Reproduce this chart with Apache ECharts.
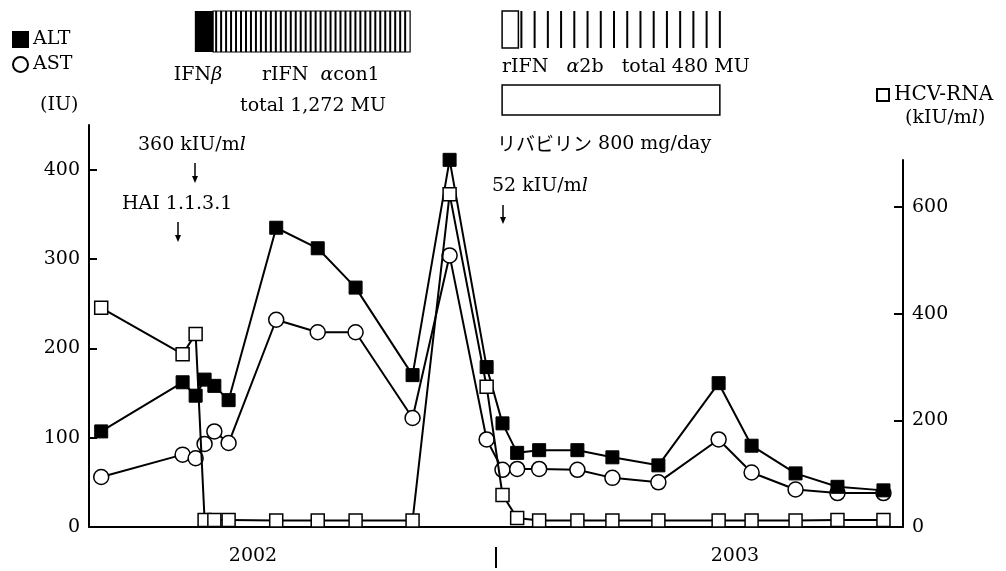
<!DOCTYPE html>
<html><head><meta charset="utf-8">
<script src="https://cdn.jsdelivr.net/npm/echarts@6/dist/echarts.min.js"></script>
<style>html,body{margin:0;padding:0;background:#fff}#c{width:1006px;height:571px}</style>
</head><body><div id="c"></div>
<script>
// x values: months counted from Jan 2002 (0 = Jan 2002, 12 = Jan 2003)
const months = [2.3, 4.3, 4.62, 4.84, 5.08, 5.43, 6.6, 7.62, 8.55, 9.95, 10.86, 11.77, 12.16, 12.52, 13.06, 14.0, 14.86, 15.99, 17.47, 18.28, 19.36, 20.39, 21.52];
const alt = [107, 162, 147, 165, 158, 142, 335, 312, 268, 170, 411, 179, 116, 83, 86, 86, 78, 69, 161, 91, 60, 45, 41];
const ast = [56, 81, 77, 93, 107, 94, 232, 218, 218, 122, 304, 98, 64, 65, 65, 64, 55, 50, 98, 61, 42, 38, 38];
const hcv = [411, 324, 362, 13, 13, 13, 12, 12, 12, 12, 624, 263, 60, 17, 12, 12, 12, 12, 12, 12, 12, 13, 13];
const leftTicks = [0, 100, 200, 300, 400];
const rightTicks = [0, 200, 400, 600];
const yearLabels = ['2002', '2003'];
const yearLabelPos = [6.03, 17.87];
const yearDivider = [12];
// treatment periods (months)
const treatStart = [4.6, 5.05, 12.15, 12.55, 12.15];
const treatEnd = [5.05, 9.89, 12.55, 17.5, 17.5];
const treatKind = ['solid', 'dense', 'box', 'sparse', 'ribavirin'];

const FONT = '"DejaVu Serif", "Liberation Serif", serif';
const JP = '"Noto Sans CJK JP", sans-serif';
const FS = 19;
const K = '#000';

function renderTreat(params, api) {
  const k = treatKind[params.dataIndex];
  const x0 = api.coord([api.value(0), 0])[0];
  const x1 = api.coord([api.value(1), 0])[0];
  if (k === 'solid') {
    return {type: 'rect', shape: {x: x0, y: 11, width: x1 - x0, height: 41}, style: {fill: K}};
  }
  if (k === 'dense') {
    const ch = [{type: 'rect', shape: {x: x0, y: 11, width: x1 - x0, height: 41}, style: {fill: '#fff', stroke: K, lineWidth: 1.2}}];
    const n = Math.round((x1 - x0) / 5);
    for (let i = 0; i < n; i++) {
      const x = x0 + 3 + i * (x1 - x0 - 3) / n;
      ch.push({type: 'line', shape: {x1: x, y1: 11, x2: x, y2: 52}, style: {stroke: K, lineWidth: 2}});
    }
    return {type: 'group', children: ch};
  }
  if (k === 'box') {
    return {type: 'rect', shape: {x: x0, y: 11, width: x1 - x0, height: 37}, style: {fill: '#fff', stroke: K, lineWidth: 1.5}};
  }
  if (k === 'sparse') {
    const ch = [];
    const n = 16;
    for (let i = 0; i < n; i++) {
      const x = x0 + 3 + i * (x1 - x0 - 3) / (n - 1);
      ch.push({type: 'line', shape: {x1: x, y1: 11, x2: x, y2: 48}, style: {stroke: K, lineWidth: 2}});
    }
    return {type: 'group', children: ch};
  }
  return {type: 'rect', shape: {x: x0, y: 85, width: x1 - x0, height: 30}, style: {fill: '#fff', stroke: K, lineWidth: 1.5}};
}

function arrow(x, y1, y2) {
  return [
    {type: 'line', shape: {x1: x, y1: y1, x2: x, y2: y2 - 4}, style: {stroke: K, lineWidth: 1.5}},
    {type: 'polygon', shape: {points: [[x - 3, y2 - 7], [x + 3, y2 - 7], [x, y2]]}, style: {fill: K}}
  ];
}
function txt(x, y, text, align, rich) {
  return {type: 'text', x: x, y: y, style: {text: text, fontFamily: FONT, fontSize: FS, fill: K, align: align || 'left', verticalAlign: 'middle', rich: rich}};
}
const richG = {g: {fontFamily: FONT, fontSize: FS, fontStyle: 'italic', fill: K}, i: {fontFamily: FONT, fontSize: FS, fontStyle: 'italic', fill: K}, j: {fontFamily: JP, fontSize: FS, fill: K}};

const chart = echarts.init(document.getElementById('c'), null, {renderer: 'canvas'});
chart.setOption({
  animation: false,
  backgroundColor: '#fff',
  grid: [
    {left: 89, right: 103, top: 125, bottom: 44, containLabel: false, outerBoundsMode: 'none'},
    {left: 89, right: 103, top: 160, bottom: 44, containLabel: false, outerBoundsMode: 'none'}
  ],
  legend: [
    {data: [{name: 'ALT', icon: 'rect'}, {name: 'AST', icon: 'circle'}], orient: 'vertical', left: 12, top: 30, padding: 0, itemWidth: 15, itemHeight: 15, itemGap: 6, selectedMode: false, textStyle: {fontFamily: FONT, fontSize: FS, color: K}},
    {data: [{name: 'HCV-RNA', icon: 'rect'}], left: 876, top: 85, padding: 0, itemWidth: 12, itemHeight: 12, selectedMode: false, textStyle: {fontFamily: FONT, fontSize: FS + 1, color: K}}
  ],
  xAxis: [
    {type: 'value', gridIndex: 0, position: 'bottom', min: 2, max: 22, splitLine: {show: false},
      axisLine: {show: true, lineStyle: {color: K, width: 2}}, axisTick: {show: false},
      axisLabel: {customValues: yearLabelPos, margin: 20, fontFamily: FONT, fontSize: FS, color: K,
        formatter: v => yearLabels[yearLabelPos.indexOf(v)]}},
    {type: 'value', gridIndex: 1, min: 2, max: 22, show: false},
    {type: 'value', gridIndex: 0, position: 'bottom', min: 2, max: 22, offset: 20, splitLine: {show: false},
      axisLine: {show: false}, axisLabel: {show: false},
      axisTick: {show: true, customValues: yearDivider, length: 21, lineStyle: {color: K, width: 2}}}
  ],
  yAxis: [
    {type: 'value', gridIndex: 0, min: 0, max: 450, splitLine: {show: false},
      axisLine: {show: true, lineStyle: {color: K, width: 2}},
      axisTick: {show: true, inside: true, length: 8, customValues: leftTicks, lineStyle: {color: K, width: 2}},
      axisLabel: {customValues: leftTicks, margin: 9, fontFamily: FONT, fontSize: FS, color: K}},
    {type: 'value', gridIndex: 1, position: 'right', min: 0, max: 688, splitLine: {show: false},
      axisLine: {show: true, lineStyle: {color: K, width: 2}},
      axisTick: {show: true, inside: true, length: 9, customValues: rightTicks, lineStyle: {color: K, width: 2}},
      axisLabel: {customValues: rightTicks, margin: 9, fontFamily: FONT, fontSize: FS, color: K}}
  ],
  series: [
    {name: 'AST', type: 'line', xAxisIndex: 0, yAxisIndex: 0, z: 2,
      data: months.map((m, i) => [m, ast[i]]), symbol: 'circle', symbolSize: 15,
      itemStyle: {color: '#fff', borderColor: K, borderWidth: 1.5}, lineStyle: {color: K, width: 2}},
    {name: 'ALT', type: 'line', xAxisIndex: 0, yAxisIndex: 0, z: 3,
      data: months.map((m, i) => [m, alt[i]]), symbol: 'rect', symbolSize: 13,
      itemStyle: {color: K, borderColor: K, borderWidth: 1}, lineStyle: {color: K, width: 2}},
    {name: 'HCV-RNA', type: 'line', xAxisIndex: 1, yAxisIndex: 1, z: 4,
      data: months.map((m, i) => [m, hcv[i]]), symbol: 'rect', symbolSize: 13,
      itemStyle: {color: '#fff', borderColor: K, borderWidth: 1.5}, lineStyle: {color: K, width: 2}},
    {name: 'treatment', type: 'custom', xAxisIndex: 0, yAxisIndex: 0, z: 1, silent: true,
      encode: {x: [0, 1]}, renderItem: renderTreat,
      data: treatStart.map((s, i) => [s, treatEnd[i]])}
  ],
  graphic: [].concat(
    [
      txt(40, 105, '(IU)'),
      txt(198, 75, 'IFN{g|β}', 'center', richG),
      txt(262, 75, 'rIFN  {g|α}con1', 'left', richG),
      txt(240, 106, 'total 1,272 MU'),
      txt(502, 67, 'rIFN   {g|α}2b   total 480 MU', 'left', richG),
      txt(497, 144, '{j|リバビリン} 800 mg/day', 'left', richG),
      txt(905, 118, '(kIU/m{i|l})', 'left', richG),
      txt(138, 145, '360 kIU/m{i|l}', 'left', richG),
      txt(122, 204, 'HAI 1.1.3.1'),
      txt(492, 186, '52 kIU/m{i|l}', 'left', richG)
    ],
    arrow(195, 163, 183), arrow(178, 222, 242), arrow(503, 205, 224)
  )
});
</script></body></html>
